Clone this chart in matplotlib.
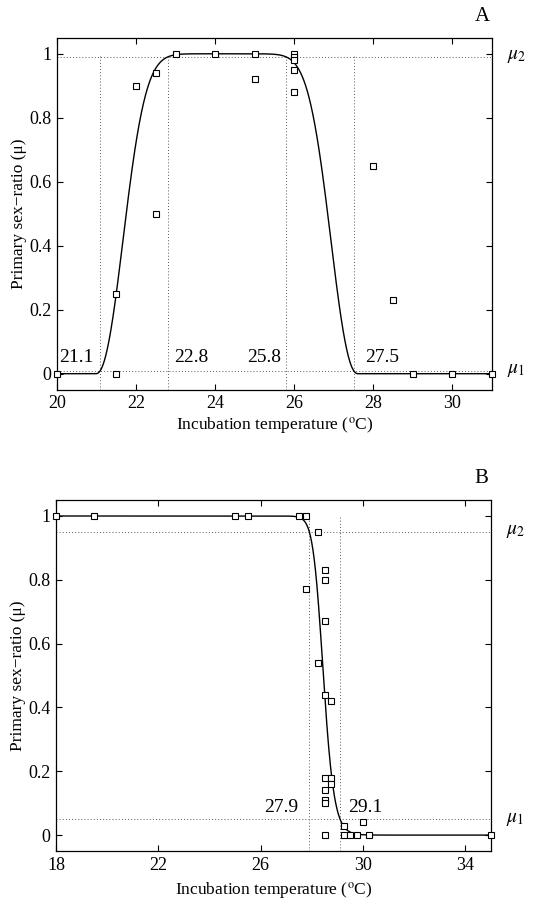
import numpy as np
import matplotlib
matplotlib.use("Agg")
import matplotlib.pyplot as plt
import matplotlib.transforms as mtransforms

plt.rcParams['font.family'] = ['Liberation Serif', 'DejaVu Serif']
plt.rcParams['mathtext.fontset'] = 'stix'

# ---------------- data ----------------
# Panel A
tempA = [20, 21.5, 21.5, 22, 22.5, 22.5, 23, 24, 25, 25, 26, 26, 26, 26, 26, 28, 28.5, 29, 30, 31]
ratioA = [0, 0.25, 0, 0.90, 0.94, 0.50, 1.0, 1.0, 1.0, 0.92, 1.0, 0.99, 0.98, 0.95, 0.88, 0.65, 0.23, 0, 0, 0]
thresholdsA = [21.1, 22.8, 25.8, 27.5]
threshold_labelsA = ["21.1", "22.8", "25.8", "27.5"]
mu1A, mu2A = 0.01, 0.99
xticksA = [20, 22, 24, 26, 28, 30]

# Panel B
tempB = [18, 19.5, 25, 25.5, 27.5, 27.75, 28.25, 28.5, 28.5, 27.75, 28.5, 28.25, 28.5, 28.75,
         28.5, 28.75, 28.5, 28.75, 28.5, 28.5, 28.5, 29.25, 29.25, 29.5, 29.75, 30, 30.25, 35]
ratioB = [1, 1, 1, 1, 1, 1, 0.95, 0.83, 0.80, 0.77, 0.67, 0.54, 0.44, 0.42,
          0.18, 0.18, 0.14, 0.16, 0.11, 0.10, 0, 0.03, 0, 0, 0, 0.04, 0, 0]
thresholdsB = [27.9, 29.1]
threshold_labelsB = ["27.9", "29.1"]
mu1B, mu2B = 0.05, 0.95
xticksB = [18, 22, 26, 30, 34]

yticks = [0, 0.2, 0.4, 0.6, 0.8, 1]
ytick_labels = ["0", "0.2", "0.4", "0.6", "0.8", "1"]


# ---------------- model curves ----------------
def weibull_rise(x, t_lo, t_hi, m_lo, m_hi, k):
    a1 = (-np.log(1 - m_lo)) ** (1 / k)
    a2 = (-np.log(1 - m_hi)) ** (1 / k)
    lam = (t_hi - t_lo) / (a2 - a1)
    x0 = t_lo - a1 * lam
    z = np.clip((x - x0) / lam, 0, None)
    return 1 - np.exp(-z ** k)


def glog_rise(x, t_lo, t_hi, m_lo, m_hi, K):
    def logit(p):
        return np.log(p / (1 - p))
    u1 = logit(m_lo ** (1 / K))
    u2 = logit(m_hi ** (1 / K))
    S = (t_hi - t_lo) / (u2 - u1)
    P = t_lo - u1 * S
    return (1 / (1 + np.exp(-(x - P) / S))) ** K


fig = plt.figure(figsize=(5.36, 9.0), dpi=100)
axA = fig.add_axes([0.106, 0.567, 0.812, 0.391])
axB = fig.add_axes([0.1045, 0.0544, 0.8116, 0.39])

dot_kw = dict(color='0.35', lw=0.7, linestyle=(0, (1, 2.2)))


def style_axes(ax, xlim, xticks, xlabel_y):
    ax.set_xlim(*xlim)
    ax.set_ylim(-0.05, 1.05)
    ax.set_xticks(xticks)
    ax.set_xticklabels([str(t) for t in xticks])
    ax.set_yticks(yticks)
    ax.set_yticklabels(ytick_labels)
    ax.tick_params(direction='in', top=True, right=True, length=4, width=0.8,
                   labelsize=13, pad=4)
    for s in ax.spines.values():
        s.set_linewidth(0.9)
    ax.set_xlabel(r'Incubation temperature ($^{\rm o}$C)', fontsize=12.5)
    ax.xaxis.label.set_va('center')
    ax.xaxis.set_label_coords(0.5, xlabel_y)
    ax.set_ylabel('Primary sex\u2212ratio (\u03bc)', fontsize=12.5)
    ax.yaxis.label.set_va('center')
    ax.yaxis.set_label_coords(-0.088, 0.5)


# ---------------- Panel A ----------------
xA = np.linspace(20, 31, 800)
curveA = weibull_rise(xA, thresholdsA[0], thresholdsA[1], mu1A, mu2A, 2.2) * \
    weibull_rise(-xA, -thresholdsA[3], -thresholdsA[2], mu1A, mu2A, 2.2)

for t in thresholdsA:
    axA.plot([t, t], [-0.05, 1.0], **dot_kw)
axA.axhline(mu2A, **dot_kw)
axA.axhline(mu1A, **dot_kw)
axA.plot(xA, curveA, color='black', lw=1.0)
axA.plot(tempA, ratioA, linestyle='none', marker='s', markersize=4.2,
         markerfacecolor='white', markeredgecolor='black', markeredgewidth=0.8,
         clip_on=False, zorder=5)

offsetsA = [(-5, 'right'), (5, 'left'), (-4, 'right'), (8, 'left')]
for t, lab, (dx, ha) in zip(thresholdsA, threshold_labelsA, offsetsA):
    axA.annotate(lab, xy=(t, mu1A), xytext=(dx, 3), textcoords='offset points',
                 ha=ha, va='bottom', fontsize=14)

style_axes(axA, (20, 31), xticksA, -0.103)

trA = mtransforms.blended_transform_factory(axA.transAxes, axA.transData)
axA.text(1.035, mu2A, r'$\mu_2$', transform=trA, ha='left', va='center', fontsize=14)
axA.text(1.035, mu1A, r'$\mu_1$', transform=trA, ha='left', va='center', fontsize=14)
axA.text(0.977, 1.06, 'A', transform=axA.transAxes, ha='center', va='center', fontsize=15)

# ---------------- Panel B ----------------
xB = np.linspace(18, 35, 1000)
curveB = 1 - glog_rise(xB, thresholdsB[0], thresholdsB[1], mu1B, mu2B, 1.5)

for t in thresholdsB:
    axB.plot([t, t], [-0.05, 1.0], **dot_kw)
axB.axhline(mu2B, **dot_kw)
axB.axhline(mu1B, **dot_kw)
axB.plot(xB, curveB, color='black', lw=1.0)
axB.plot(tempB, ratioB, linestyle='none', marker='s', markersize=4.2,
         markerfacecolor='white', markeredgecolor='black', markeredgewidth=0.8,
         clip_on=False, zorder=5)

offsetsB = [(-8, 'right'), (6, 'left')]
for t, lab, (dx, ha) in zip(thresholdsB, threshold_labelsB, offsetsB):
    axB.annotate(lab, xy=(t, mu1B), xytext=(dx, 2), textcoords='offset points',
                 ha=ha, va='bottom', fontsize=14)

style_axes(axB, (18, 35), xticksB, -0.112)

trB = mtransforms.blended_transform_factory(axB.transAxes, axB.transData)
axB.text(1.035, mu2B, r'$\mu_2$', transform=trB, ha='left', va='center', fontsize=14)
axB.text(1.035, mu1B, r'$\mu_1$', transform=trB, ha='left', va='center', fontsize=14)
axB.text(0.977, 1.06, 'B', transform=axB.transAxes, ha='center', va='center', fontsize=15)

fig.savefig('out.png', dpi=100, facecolor='white')
